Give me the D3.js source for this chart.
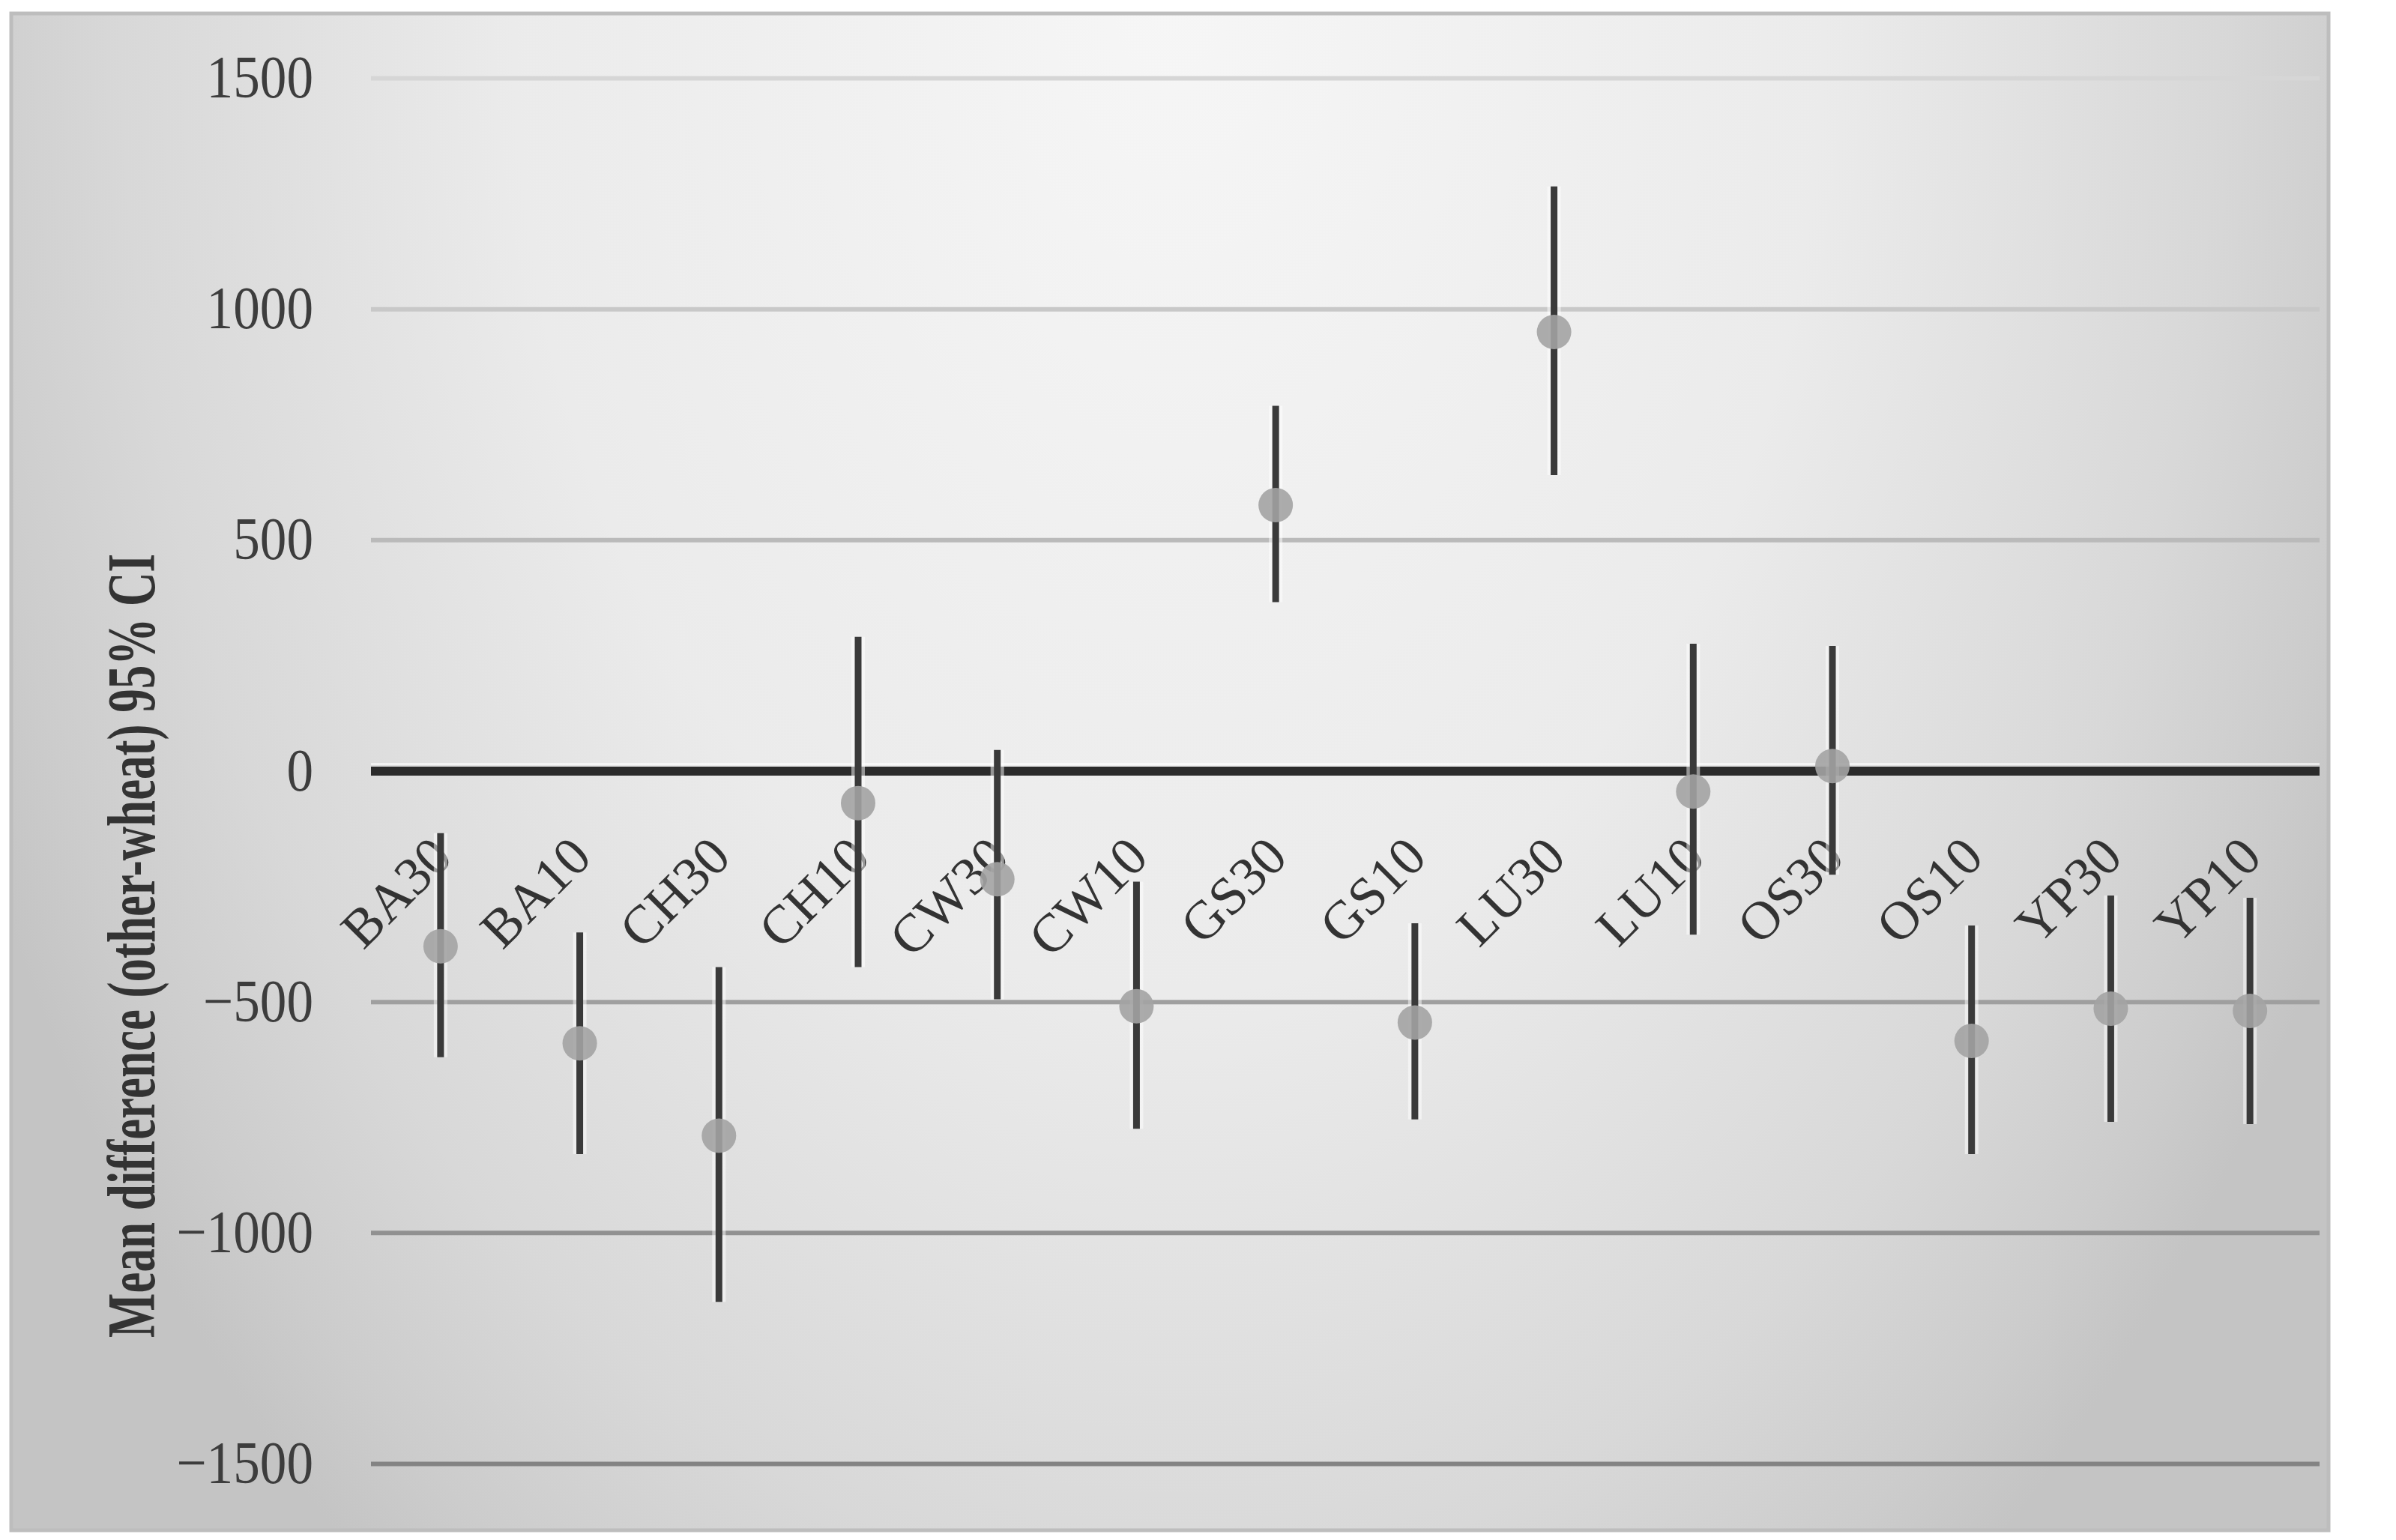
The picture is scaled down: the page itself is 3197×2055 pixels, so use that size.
<!DOCTYPE html>
<html>
<head>
<meta charset="utf-8">
<script src="https://cdn.jsdelivr.net/npm/d3@7"></script>
<style>
  body { margin: 0; background: #fff; }
  svg { display: block; }
</style>
</head>
<body>
<div id="chart"></div>
<script>
// mean difference (other - wheat) with 95% CI
var categories = ["BA30", "BA10", "CH30", "CH10", "CW30", "CW10", "GS30",
                  "GS10", "LU30", "LU10", "OS30", "OS10", "YP30", "YP10"];
var means = [-380, -590, -790, -70, -235, -510, 575, -545, 950, -45, 10, -585, -515, -520];
var lower = [-620, -830, -1150, -425, -495, -775, 365, -755, 640, -355, -225, -830, -760, -765];
var upper = [-135, -350, -425, 290, 45, -240, 790, -330, 1265, 275, 270, -335, -270, -275];
var yTicks = [-1500, -1000, -500, 0, 500, 1000, 1500];
var yTitle = "Mean difference (other-wheat) 95% CI";

var W = 3197, H = 2055;
var margin = { top: 104, right: 102, bottom: 102, left: 495 };
var width = W - margin.left - margin.right;
var height = H - margin.top - margin.bottom;

var data = categories.map(function (c, i) {
    return { name: c, mean: means[i], lo: lower[i], hi: upper[i] };
});

var svg = d3.select("#chart").append("svg")
    .attr("width", W)
    .attr("height", H);

// background panel with soft radial shading
var defs = svg.append("defs");
var grad = defs.append("radialGradient")
    .attr("id", "bg")
    .attr("gradientUnits", "userSpaceOnUse")
    .attr("cx", 0).attr("cy", 0).attr("r", 1)
    .attr("gradientTransform", "translate(1560,0) scale(1750,2650)");
[[0, "#f6f6f6"], [0.5, "#ebebeb"], [0.8, "#d8d8d8"], [0.93, "#cccccc"], [1, "#c4c4c4"]]
    .forEach(function (s) {
        grad.append("stop").attr("offset", s[0]).attr("stop-color", s[1]);
    });

svg.append("rect")
    .attr("x", 15).attr("y", 18)
    .attr("width", 3092).attr("height", 2024)
    .attr("fill", "url(#bg)")
    .attr("stroke", "#bdbdbd")
    .attr("stroke-width", 5);

var g = svg.append("g")
    .attr("transform", "translate(" + margin.left + "," + margin.top + ")");

var x = d3.scaleBand()
    .domain(categories)
    .range([0, width]);

var y = d3.scaleLinear()
    .domain([-1500, 1500])
    .range([height, 0]);

var gridColor = d3.scaleLinear()
    .domain([-1500, 1500])
    .range(["#838383", "#d6d6d6"]);

// y axis with gridlines
var yAxis = g.append("g")
    .call(d3.axisLeft(y)
        .tickValues(yTicks)
        .tickSize(-width)
        .tickPadding(0)
        .tickFormat(function (d) { return d < 0 ? "\u2212" + Math.abs(d) : String(d); }));
yAxis.select(".domain").remove();
yAxis.selectAll(".tick line")
    .attr("stroke", function (d) { return d === 0 ? "#2b2b2b" : gridColor(d); })
    .attr("stroke-width", function (d) { return d === 0 ? 12 : 6; });
// narrow serif digits: squeeze horizontally around the right edge
yAxis.selectAll(".tick text")
    .attr("x", 0)
    .attr("transform", "translate(-77,0) scale(0.89,1)")
    .attr("fill", "#3d3d3d")
    .style("font-family", "'Liberation Serif', serif")
    .style("font-size", "80px");

// light highlight above the zero line
g.append("line")
    .attr("x1", 0).attr("x2", width)
    .attr("y1", y(0) - 9).attr("y2", y(0) - 9)
    .attr("stroke", "#ffffff")
    .attr("stroke-opacity", 0.6)
    .attr("stroke-width", 3);

// category labels, rotated
g.append("g").selectAll("text")
    .data(categories)
    .enter()
    .append("text")
    .attr("transform", function (d) {
        return "translate(" + (x(d) + x.bandwidth() / 2 - 16) + "," + (y(0) + 84) + ") rotate(-45)";
    })
    .attr("dy", "0.68em")
    .attr("text-anchor", "end")
    .attr("fill", "#333")
    .style("font-family", "'Liberation Serif', serif")
    .style("font-size", "72px")
    .text(function (d) { return d; });

// confidence interval whiskers
var cx = function (d) { return x(d.name) + x.bandwidth() / 2; };

g.append("g").selectAll("line")
    .data(data)
    .enter()
    .append("line")
    .attr("x1", cx).attr("x2", cx)
    .attr("y1", function (d) { return y(d.hi); })
    .attr("y2", function (d) { return y(d.lo); })
    .attr("stroke", "#ffffff")
    .attr("stroke-opacity", 0.5)
    .attr("stroke-width", 18);

g.append("g").selectAll("line")
    .data(data)
    .enter()
    .append("line")
    .attr("x1", cx).attr("x2", cx)
    .attr("y1", function (d) { return y(d.hi); })
    .attr("y2", function (d) { return y(d.lo); })
    .attr("stroke", "#3a3a3a")
    .attr("stroke-width", 9);

// means
g.append("g").selectAll("circle")
    .data(data)
    .enter()
    .append("circle")
    .attr("cx", cx)
    .attr("cy", function (d) { return y(d.mean); })
    .attr("r", 23)
    .attr("fill", "#a3a3a3")
    .attr("fill-opacity", 0.9);

// y axis title (condensed along its length)
svg.append("text")
    .attr("transform", "translate(206,1262) rotate(-90) scale(0.7,1)")
    .attr("text-anchor", "middle")
    .attr("fill", "#333")
    .style("font-family", "'Liberation Serif', serif")
    .style("font-weight", "bold")
    .style("font-size", "90px")
    .text(yTitle);
</script>
</body>
</html>
